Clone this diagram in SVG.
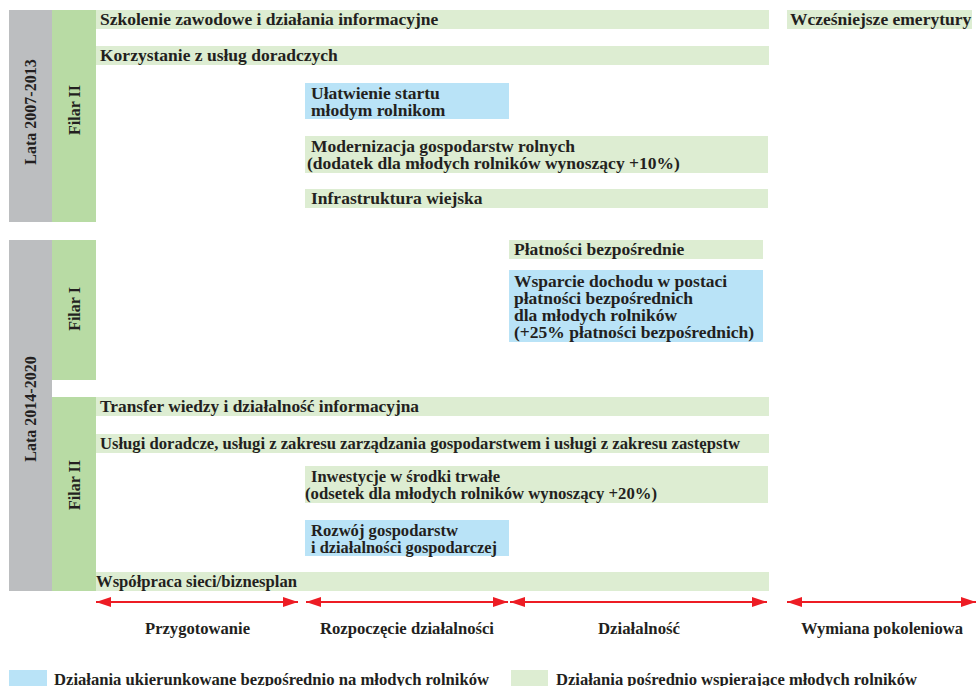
<svg xmlns="http://www.w3.org/2000/svg" width="976" height="686" viewBox="0 0 976 686">
  <defs>
    <style>
      .period { fill: #BCBEC0; }
      .pillar { fill: #B8DBA4; }
      .ind { fill: #DDEDD2; }
      .dir { fill: #B9E3F7; }
      text { font-family: "Liberation Serif", "Times New Roman", serif; font-weight: bold; fill: #231F20; }
      .t { font-size: 17.5px; }
      .c { font-size: 17px; }
      .v { font-size: 16px; text-anchor: middle; }
      .phase { stroke: #ED1C24; stroke-width: 2.2; fill: none; }
    </style>
    <marker id="head" viewBox="0 0 15 10" refX="15" refY="5" markerWidth="15" markerHeight="10" markerUnits="userSpaceOnUse" orient="auto-start-reverse">
      <path d="M0,0 L15,5 L0,10 Z" fill="#ED1C24"/>
    </marker>
  </defs>

  <!-- period and pillar columns -->
  <g id="period-2007-2013">
    <rect class="period" x="9" y="10" width="43" height="212"/>
    <text class="v" transform="translate(36,112) rotate(-90)">Lata 2007-2013</text>
  </g>
  <g id="pillar-2-2007">
    <rect class="pillar" x="52" y="10" width="44" height="212"/>
    <text class="v" transform="translate(80,110) rotate(-90)">Filar II</text>
  </g>
  <g id="period-2014-2020">
    <rect class="period" x="9" y="240" width="43" height="351"/>
    <text class="v" transform="translate(36,409) rotate(-90)">Lata 2014-2020</text>
  </g>
  <g id="pillar-1-2014">
    <rect class="pillar" x="52" y="240" width="44" height="140"/>
    <text class="v" transform="translate(80,309) rotate(-90)">Filar I</text>
  </g>
  <g id="pillar-2-2014">
    <rect class="pillar" x="52" y="397" width="44" height="194"/>
    <text class="v" transform="translate(80,485) rotate(-90)">Filar II</text>
  </g>

  <!-- measures 2007-2013 -->
  <g id="training">
    <rect class="ind" x="96" y="10" width="673" height="19"/>
    <text class="t" x="100" y="25">Szkolenie zawodowe i działania informacyjne</text>
  </g>
  <g id="early-retirement">
    <rect class="ind" x="787" y="10" width="185" height="19"/>
    <text class="t" x="790" y="25">Wcześniejsze emerytury</text>
  </g>
  <g id="advisory">
    <rect class="ind" x="96" y="46" width="673" height="19"/>
    <text class="t" x="100" y="61">Korzystanie z usług doradczych</text>
  </g>
  <g id="setting-up">
    <rect class="dir" x="305" y="83" width="204" height="36"/>
    <text class="t" x="311" y="99">Ułatwienie startu</text>
    <text class="t" x="311" y="116">młodym rolnikom</text>
  </g>
  <g id="modernisation">
    <rect class="ind" x="305" y="136" width="463" height="37"/>
    <text class="t" x="311" y="152">Modernizacja gospodarstw rolnych</text>
    <text class="t" x="307" y="169">(dodatek dla młodych rolników wynoszący +10%)</text>
  </g>
  <g id="infrastructure">
    <rect class="ind" x="305" y="189" width="463" height="19"/>
    <text class="t" x="311" y="204">Infrastruktura wiejska</text>
  </g>

  <!-- measures 2014-2020, pillar I -->
  <g id="direct-payments">
    <rect class="ind" x="509" y="240" width="254" height="19"/>
    <text class="t" x="514" y="255">Płatności bezpośrednie</text>
  </g>
  <g id="young-farmer-payment">
    <rect class="dir" x="509" y="270" width="254" height="72"/>
    <text class="t" x="514" y="287">Wsparcie dochodu w postaci</text>
    <text class="t" x="514" y="304">płatności bezpośrednich</text>
    <text class="t" x="514" y="321">dla młodych rolników</text>
    <text class="t" x="514" y="338">(+25% płatności bezpośrednich)</text>
  </g>

  <!-- measures 2014-2020, pillar II -->
  <g id="knowledge-transfer">
    <rect class="ind" x="96" y="397" width="673" height="19"/>
    <text class="c" x="100" y="412" textLength="319" lengthAdjust="spacingAndGlyphs">Transfer wiedzy i działalność informacyjna</text>
  </g>
  <g id="advisory-services">
    <rect class="ind" x="96" y="434" width="673" height="19"/>
    <text class="c" x="100" y="449" textLength="640" lengthAdjust="spacingAndGlyphs">Usługi doradcze, usługi z zakresu zarządzania gospodarstwem i usługi z zakresu zastępstw</text>
  </g>
  <g id="investments">
    <rect class="ind" x="305" y="466" width="463" height="37"/>
    <text class="c" x="311" y="482" textLength="189" lengthAdjust="spacingAndGlyphs">Inwestycje w środki trwałe</text>
    <text class="c" x="305" y="499" textLength="352" lengthAdjust="spacingAndGlyphs">(odsetek dla młodych rolników wynoszący +20%)</text>
  </g>
  <g id="farm-development">
    <rect class="dir" x="305" y="520" width="204" height="36"/>
    <text class="c" x="311" y="536" textLength="147" lengthAdjust="spacingAndGlyphs">Rozwój gospodarstw</text>
    <text class="c" x="311" y="553" textLength="186" lengthAdjust="spacingAndGlyphs">i działalności gospodarczej</text>
  </g>
  <g id="cooperation">
    <rect class="ind" x="96" y="572" width="673" height="19"/>
    <text class="c" x="96" y="587" textLength="201" lengthAdjust="spacingAndGlyphs">Współpraca sieci/biznesplan</text>
  </g>

  <!-- phase arrows -->
  <g id="phases">
    <line class="phase" x1="96" y1="602" x2="298" y2="602" marker-start="url(#head)" marker-end="url(#head)"/>
    <line class="phase" x1="306" y1="602" x2="508" y2="602" marker-start="url(#head)" marker-end="url(#head)"/>
    <line class="phase" x1="510" y1="602" x2="767" y2="602" marker-start="url(#head)" marker-end="url(#head)"/>
    <line class="phase" x1="787" y1="602" x2="976" y2="602" marker-start="url(#head)" marker-end="url(#head)"/>
  </g>
  <g id="phase-labels">
    <text class="c" x="145" y="634" textLength="105" lengthAdjust="spacingAndGlyphs">Przygotowanie</text>
    <text class="c" x="320" y="634" textLength="174" lengthAdjust="spacingAndGlyphs">Rozpoczęcie działalności</text>
    <text class="c" x="598" y="634" textLength="82" lengthAdjust="spacingAndGlyphs">Działalność</text>
    <text class="c" x="801" y="634" textLength="162" lengthAdjust="spacingAndGlyphs">Wymiana pokoleniowa</text>
  </g>

  <!-- legend -->
  <g id="legend-direct">
    <rect class="dir" x="9" y="670" width="38" height="16"/>
    <text class="c" x="54" y="685" textLength="435" lengthAdjust="spacingAndGlyphs">Działania ukierunkowane bezpośrednio na młodych rolników</text>
  </g>
  <g id="legend-indirect">
    <rect class="ind" x="511" y="670" width="37" height="16"/>
    <text class="c" x="556" y="685" textLength="361" lengthAdjust="spacingAndGlyphs">Działania pośrednio wspierające młodych rolników</text>
  </g>
</svg>
